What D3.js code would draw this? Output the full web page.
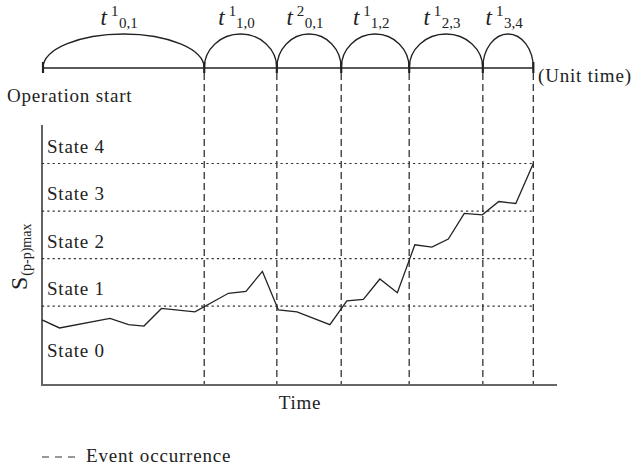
<!DOCTYPE html>
<html>
<head>
<meta charset="utf-8">
<script src="https://cdn.jsdelivr.net/npm/d3@7"></script>
<style>
  body { margin: 0; background: #fff; }
  svg text { font-family: "Liberation Serif", "Times New Roman", serif; fill: #222; }
</style>
</head>
<body>
<div id="chart"></div>
<script>
"use strict";

// event times (unit time) and the interval labels between them
const eventTimes = [0, 31.5, 45.6, 58.1, 71.3, 85.6, 95.4];
const intervalSup = ["1", "1", "2", "1", "1", "1"];
const intervalSub = ["0,1", "1,0", "0,1", "1,2", "2,3", "3,4"];

// S(p-p)max trace, time and level in state units
const traceTime = [0, 3.4, 13.2, 16.8, 19.8, 23.2, 29.7, 36.2, 39.6, 42.8, 45.9, 49.5,
    55.9, 59.2, 62.4, 65.6, 69.0, 72.4, 75.7, 78.9, 82.0, 85.5, 88.7, 92.0, 95.4];
const traceLevel = [0.71, 0.54, 0.74, 0.61, 0.58, 0.95, 0.88, 1.27, 1.31, 1.73, 0.92, 0.88,
    0.61, 1.11, 1.14, 1.57, 1.28, 2.29, 2.24, 2.41, 2.95, 2.92, 3.20, 3.16, 4.00];

// state boundaries and labels
const stateBounds = [1, 2, 3, 4];
const stateNames = ["State 0", "State 1", "State 2", "State 3", "State 4"];

const msm = {
    width: 634,
    height: 470,
    left: 42,
    right: 557,
    plotTop: 125,
    plotBottom: 385,
    timelineY: 68,
    arcRise: 34
}

const svg = d3.select("#chart")
    .append("svg")
    .attr("width", msm.width)
    .attr("height", msm.height);

// scales
let xScale = d3.scaleLinear()
    .domain([0, 100])
    .range([msm.left, msm.right]);

let yScale = d3.scaleLinear()
    .domain([-0.66, 4.81])
    .range([msm.plotBottom, msm.plotTop]);

const fontSize = 19;
const spacing = "0.8px";

// ---- timeline at the top ----
svg.append("line")
    .attr("x1", xScale(0) + 1)
    .attr("x2", xScale(eventTimes[eventTimes.length - 1]))
    .attr("y1", msm.timelineY)
    .attr("y2", msm.timelineY)
    .attr("stroke", "#222")
    .attr("stroke-width", 1.3);

// tick marks at every event
svg.selectAll(".tick-mark")
    .data(eventTimes)
    .enter()
    .append("line")
    .attr("class", "tick-mark")
    .attr("x1", (d, i) => xScale(d) + (i == 0 ? 1 : 0))
    .attr("x2", (d, i) => xScale(d) + (i == 0 ? 1 : 0))
    .attr("y1", msm.timelineY - 6)
    .attr("y2", msm.timelineY + 5)
    .attr("stroke", "#222")
    .attr("stroke-width", 2.2);

// arcs over each interval
let intervals = d3.range(eventTimes.length - 1).map(i => ({
    t0: eventTimes[i],
    t1: eventTimes[i + 1],
    sup: intervalSup[i],
    sub: intervalSub[i]
}));

svg.selectAll(".arc")
    .data(intervals)
    .enter()
    .append("path")
    .attr("class", "arc")
    .attr("fill", "none")
    .attr("stroke", "#222")
    .attr("stroke-width", 1.3)
    .attr("d", d => {
        let x0 = xScale(d.t0) + (d.t0 == 0 ? 1 : 0), x1 = xScale(d.t1);
        let rx = (x1 - x0) / 2;
        return "M" + x0 + "," + msm.timelineY + " A" + rx + "," + msm.arcRise +
            " 0 0 1 " + x1 + "," + msm.timelineY;
    });

// interval labels t^k_{i,j}
let lab = svg.selectAll(".arc-label")
    .data(intervals)
    .enter()
    .append("text")
    .attr("class", "arc-label")
    .attr("x", d => (xScale(d.t0) + xScale(d.t1)) / 2 - 4)
    .attr("y", 25)
    .attr("text-anchor", "middle")
    .style("font-size", "23px");

lab.append("tspan")
    .style("font-style", "italic")
    .text("t");
lab.append("tspan")
    .attr("dx", 4)
    .attr("dy", -9)
    .style("font-size", "15px")
    .text(d => d.sup);
lab.append("tspan")
    .attr("dx", 0.5)
    .attr("dy", 12)
    .style("font-size", "15px")
    .text(d => d.sub);

svg.append("text")
    .attr("x", 538)
    .attr("y", 82)
    .style("font-size", fontSize + "px")
    .style("letter-spacing", spacing)
    .text("(Unit time)");

svg.append("text")
    .attr("x", 7)
    .attr("y", 102)
    .style("font-size", fontSize + "px")
    .style("letter-spacing", spacing)
    .text("Operation start");

// ---- state chart ----
// dotted state boundaries
svg.selectAll(".bound")
    .data(stateBounds)
    .enter()
    .append("line")
    .attr("class", "bound")
    .attr("x1", xScale(0))
    .attr("x2", xScale(eventTimes[eventTimes.length - 1]))
    .attr("y1", d => yScale(d))
    .attr("y2", d => yScale(d))
    .attr("stroke", "#333")
    .attr("stroke-width", 1.2)
    .attr("stroke-dasharray", "2.2,3.1");

// event occurrence dashed lines
svg.selectAll(".event")
    .data(eventTimes.slice(1))
    .enter()
    .append("line")
    .attr("class", "event")
    .attr("x1", d => xScale(d))
    .attr("x2", d => xScale(d))
    .attr("y1", msm.timelineY + 5)
    .attr("y2", msm.plotBottom)
    .attr("stroke", "#333")
    .attr("stroke-width", 1.3)
    .attr("stroke-dasharray", "7,4");

// state labels
svg.selectAll(".state-label")
    .data(stateNames)
    .enter()
    .append("text")
    .attr("class", "state-label")
    .attr("x", 47)
    .attr("y", (d, i) => i == 0 ? 357 : yScale(i) - 11)
    .style("font-size", fontSize + "px")
    .style("letter-spacing", spacing)
    .text(d => d);

// trace
let trace = traceTime.map((t, i) => [t, traceLevel[i]]);
svg.append("path")
    .datum(trace)
    .attr("fill", "none")
    .attr("stroke", "#222")
    .attr("stroke-width", 1.3)
    .attr("stroke-linejoin", "miter")
    .attr("d", d3.line().x(d => xScale(d[0])).y(d => yScale(d[1])));

// axes
svg.append("line")
    .attr("x1", msm.left)
    .attr("x2", msm.left)
    .attr("y1", msm.plotTop)
    .attr("y2", msm.plotBottom + 1)
    .attr("stroke", "#222")
    .attr("stroke-width", 1.4);

svg.append("line")
    .attr("x1", msm.left)
    .attr("x2", msm.right)
    .attr("y1", msm.plotBottom)
    .attr("y2", msm.plotBottom)
    .attr("stroke", "#666")
    .attr("stroke-width", 2.2);

// axis titles
svg.append("text")
    .attr("x", 300)
    .attr("y", 409)
    .attr("text-anchor", "middle")
    .style("font-size", fontSize + "px")
    .style("letter-spacing", spacing)
    .text("Time");

let yTitle = svg.append("text")
    .attr("transform", "translate(27,290) rotate(-90)")
    .style("font-size", "24px");
yTitle.append("tspan")
    .text("S");
yTitle.append("tspan")
    .attr("dx", 1)
    .attr("dy", 4)
    .style("font-size", "14px")
    .text("(p-p)max");

// legend
svg.append("line")
    .attr("x1", 42)
    .attr("x2", 76)
    .attr("y1", 457)
    .attr("y2", 457)
    .attr("stroke", "#333")
    .attr("stroke-width", 1.2)
    .attr("stroke-dasharray", "7,6");

svg.append("text")
    .attr("x", 86)
    .attr("y", 462)
    .style("font-size", fontSize + "px")
    .style("letter-spacing", spacing)
    .text("Event occurrence");
</script>
</body>
</html>
